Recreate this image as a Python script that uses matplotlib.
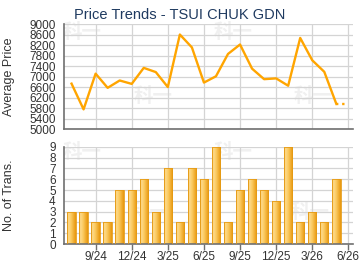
import matplotlib
matplotlib.use('Agg')
import matplotlib.pyplot as plt
import numpy as np
from matplotlib.colors import LinearSegmentedColormap

plt.rcParams['font.family'] = ['Liberation Sans', 'DejaVu Sans']

# data: one point per month, 7/24 .. 5/26
months = ['7/24', '8/24', '9/24', '10/24', '11/24', '12/24', '1/25', '2/25', '3/25',
          '4/25', '5/25', '6/25', '7/25', '8/25', '9/25', '10/25', '11/25', '12/25',
          '1/26', '2/26', '3/26', '4/26', '5/26']
avg_price = [6730, 5750, 7110, 6570, 6850, 6720, 7330, 7170, 6600,
             8600, 8110, 6770, 7010, 7860, 8220, 7300, 6900, 6930,
             6650, 8470, 7620, 7180, 5960]
trans = [3, 3, 2, 2, 5, 5, 6, 3, 7, 2, 7, 6, 9, 2, 5, 6, 5, 4, 9, 2, 3, 2, 6]
tick_labels = ['9/24', '12/24', '3/25', '6/25', '9/25', '12/25', '3/26', '6/26']
tick_pos = [2, 5, 8, 11, 14, 17, 20, 23]

x = np.arange(len(months))
line_col = '#FFA500'
grid_col = '#D4D4D4'
spine_col = '#707070'
txt_col = '#333333'

fig = plt.figure(figsize=(3.6, 2.7), dpi=100)
ax1 = fig.add_axes([0.178, 0.522, 0.803, 0.389])
ax2 = fig.add_axes([0.178, 0.096, 0.803, 0.360])

# faint watermarks, behind everything
for (px, py) in [(82, 33), (233, 33), (153, 97), (313, 97),
                 (82, 153), (233, 153), (150, 212), (310, 212)]:
    fig.text(px / 360, 1 - py / 270, '科一', family=['Noto Sans CJK SC'],
             fontsize=14, fontweight='bold', color='#F0F0F0',
             ha='center', va='center', zorder=-5)

for ax in (ax1, ax2):
    ax.set_facecolor('none')
    ax.set_xlim(-0.62, 23.4)
    ax.set_xticks(tick_pos)
    for s in ('top', 'right'):
        ax.spines[s].set_visible(False)
    for s in ('left', 'bottom'):
        ax.spines[s].set_color(spine_col)
        ax.spines[s].set_linewidth(1.2)
    ax.grid(True, color=grid_col, linewidth=0.9)
    ax.set_axisbelow(True)
    ax.tick_params(axis='y', length=0, labelsize=8.5, colors=txt_col, pad=6)

# price line
ax1.plot(x, avg_price, color=line_col, linewidth=1.7, zorder=3)
ax1.plot([x[-1], x[-1] + 0.75], [avg_price[-1]] * 2, color=line_col,
         linewidth=1.7, linestyle=(0, (1, 1.6)), zorder=3)
ax1.set_ylim(5000, 9000)
ax1.set_yticks(np.arange(5000, 9001, 400))
ax1.tick_params(axis='x', length=0, labelbottom=False)
ax1.set_ylabel('Average Price', fontsize=9, color=txt_col)
ax1.yaxis.set_label_coords(-0.17, 0.5)

# transaction bars with a horizontal gradient
cmap = LinearSegmentedColormap.from_list('bar', [
    (0.0, '#EFA21A'), (0.15, '#FDDC90'), (0.45, '#FBCB62'), (1.0, '#E8960C')])
grad = np.linspace(0, 1, 64).reshape(1, -1)
bw = 0.7
bars = ax2.bar(x, trans, width=bw, color='none', edgecolor='#E59A14',
               linewidth=0.6, zorder=3)
for b in bars:
    bx, by, w, h = b.get_x(), b.get_y(), b.get_width(), b.get_height()
    im = ax2.imshow(grad, cmap=cmap, aspect='auto', extent=(bx, bx + w, by, by + h),
                    zorder=2.5, interpolation='bilinear')
    im.set_clip_path(b)
ax2.set_xlim(-0.62, 23.4)
ax2.set_ylim(0, 9)
ax2.set_yticks(range(0, 10))
ax2.set_xticklabels(tick_labels)
ax2.tick_params(axis='x', length=4, width=1, color=spine_col, labelsize=8.5,
                colors=txt_col, pad=1)
ax2.set_ylabel('No. of Trans.', fontsize=9, color=txt_col)
ax2.yaxis.set_label_coords(-0.17, 0.5)

fig.text(0.5, 0.944, 'Price Trends - TSUI CHUK GDN', ha='center', va='center',
         fontsize=10.5, color='#1F3A60')

fig.savefig('out.png', dpi=100)
